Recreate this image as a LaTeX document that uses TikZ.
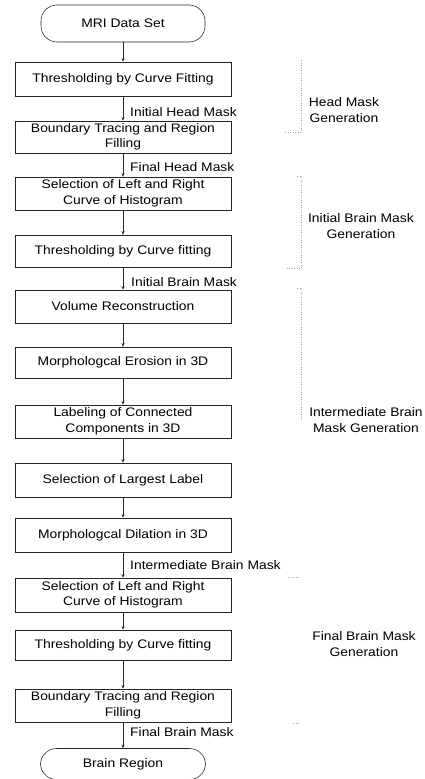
\documentclass[tikz,border=0pt]{standalone}
\usepackage{fontspec}
\setmainfont{Liberation Sans}[FakeStretch=1.12]
\usetikzlibrary{arrows.meta}
\tikzset{
  box/.style={draw=black!85, line width=0.55pt, minimum width=216pt, align=center, inner sep=0pt},
  term/.style={draw=black!85, line width=0.55pt, rounded corners=16pt, minimum width=164pt, inner sep=0pt},
  arr/.style={draw=black!85, line width=0.55pt, -{Stealth[length=3.5pt,width=3pt]}},
  lab/.style={anchor=west, inner sep=0pt},
  grp/.style={align=center, inner sep=0pt},
  brk/.style={draw=black!35, dotted, line width=0.5pt}
}
\begin{document}
\begin{tikzpicture}[x=1pt,y=-1pt,font=\fontsize{12.4}{15.5}\selectfont]
\useasboundingbox (0,0) rectangle (424,779);
% main boxes
\node[term, minimum height=37pt] (b1) at (123,23.5) {MRI Data Set};
\node[box, minimum height=34pt] (b2) at (123,79) {Thresholding by Curve Fitting};
\node[box, minimum height=32pt] (b3) at (123,137) {Boundary Tracing and Region\\Filling};
\node[box, minimum height=33pt] (b4) at (123,193.5) {Selection of Left and Right\\Curve of Histogram};
\node[box, minimum height=32pt] (b5) at (123,251) {Thresholding by Curve fitting};
\node[box, minimum height=33pt] (b6) at (123,306.5) {Volume Reconstruction};
\node[box, minimum height=31pt] (b7) at (123,362.5) {Morphologcal Erosion in 3D};
\node[box, minimum height=33pt] (b8) at (123,421.5) {Labeling of Connected\\Components in 3D};
\node[box, minimum height=34pt] (b9) at (123,480) {Selection of Largest Label};
\node[box, minimum height=34pt] (b10) at (123,535) {Morphologcal Dilation in 3D};
\node[box, minimum height=34pt] (b11) at (123,595) {Selection of Left and Right\\Curve of Histogram};
\node[box, minimum height=30pt] (b12) at (123,645) {Thresholding by Curve fitting};
\node[box, minimum height=33pt] (b13) at (123,705.5) {Boundary Tracing and Region\\Filling};
\node[term, minimum height=31pt, minimum width=165pt] (b14) at (123,764) {Brain Region};
% connectors
\foreach \a/\b in {b1/b2,b2/b3,b3/b4,b4/b5,b5/b6,b6/b7,b7/b8,b8/b9,b9/b10,b10/b11,b11/b12,b12/b13,b13/b14}
  \draw[arr] (\a.south) -- (\b.north);
% connector labels
\node[lab] (l1) at (130,112) {Initial Head Mask};
\node[lab] (l2) at (130,167) {Final Head Mask};
\node[lab] (l3) at (131,282) {Initial Brain Mask};
\node[lab] (l4) at (130,565) {Intermediate Brain Mask};
\node[lab] (l5) at (130,732) {Final Brain Mask};
% group labels
\node[grp] (g1) at (344,110) {Head Mask\\Generation};
\node[grp] (g2) at (361,226) {Initial Brain Mask\\Generation};
\node[grp] (g3) at (366,420) {Intermediate Brain\\Mask Generation};
\node[grp] (g4) at (364,644) {Final Brain Mask\\Generation};
% faint group brackets
\draw[brk] (301,60) -- (301,132) -- (285,132);
\draw[brk] (297,176) -- (301,176) -- (301,268) -- (285,268);
\draw[brk] (297,288) -- (301,288) -- (301,420);
\draw[brk] (288,577) -- (300,577);
\draw[brk] (293,723) -- (300,723);
\end{tikzpicture}
\end{document}
